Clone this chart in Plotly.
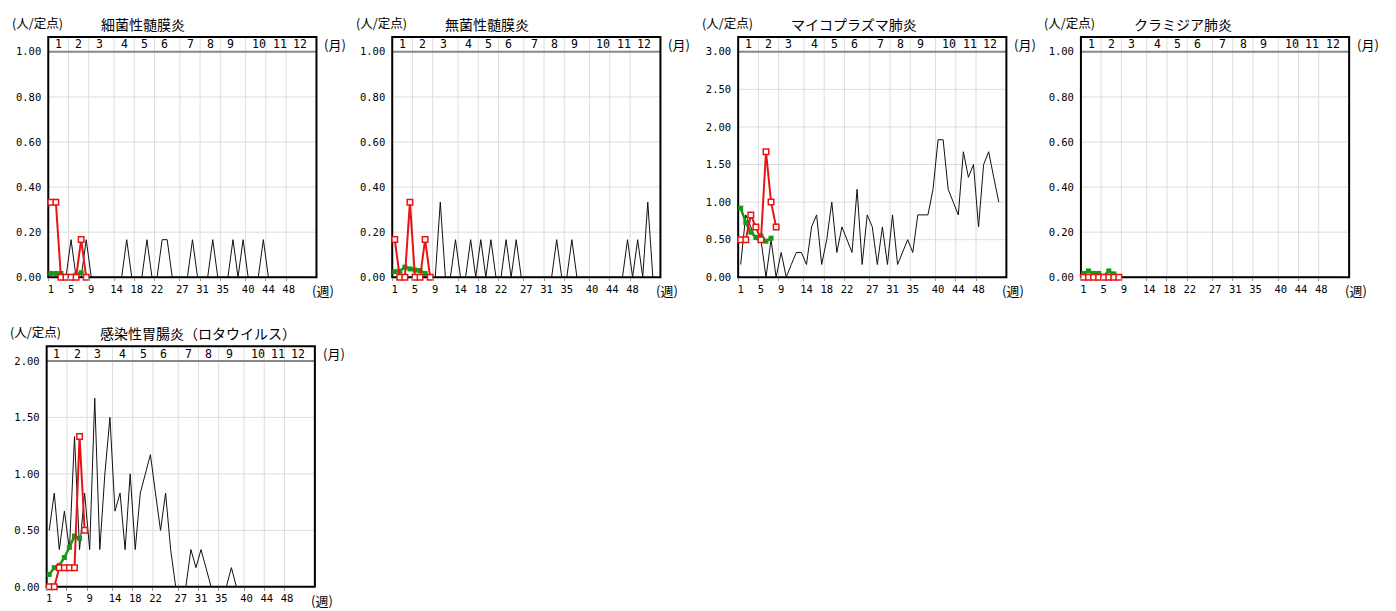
import plotly.graph_objects as go

W, H = 1396, 611

# ---------------- data ----------------
weeks = list(range(1, 53))
cur_weeks = list(range(1, 9))
avg_weeks = list(range(1, 8))

month_start_weeks = [1, 5, 9, 14, 18, 22, 27, 31, 35, 40, 44, 48]
month_labels = ["1", "2", "3", "4", "5", "6", "7", "8", "9", "10", "11", "12"]

titles = ["細菌性髄膜炎", "無菌性髄膜炎", "マイコプラズマ肺炎", "クラミジア肺炎",
          "感染性胃腸炎（ロタウイルス）"]
y_max = [1.0, 1.0, 3.0, 1.0, 2.0]
y_step = [0.2, 0.2, 0.5, 0.2, 0.5]

s = 1 / 6
# 細菌性髄膜炎
bact_prev = [0, 0, 0, 0, s, 0, 0, s, 0, 0, 0, 0, 0, 0, 0, s, 0, 0, 0, s,
             0, 0, s, s, 0, 0, 0, 0, s, 0, 0, 0, s, 0, 0, 0, s, 0, s, 0,
             0, 0, s, 0, 0, 0, 0, 0, 0, 0, 0, 0]
bact_cur = [0.333, 0.333, 0, 0, 0, 0, 0.167, 0]
bact_avg = [0.017, 0.017, 0.017, 0.004, 0.003, 0.01, 0.02]

# 無菌性髄膜炎
asep_prev = [0, 0, 0, 0, 0, 0, 0, 0, 0, 2 * s, 0, 0, s, 0, 0, s, 0, s, 0, s,
             0, 0, s, 0, s, 0, 0, 0, 0, 0, 0, 0, s, 0, 0, s, 0, 0, 0, 0,
             0, 0, 0, 0, 0, 0, s, 0, s, 0, 2 * s, 0]
asep_cur = [0.167, 0, 0, 0.333, 0, 0, 0.167, 0]
asep_avg = [0.025, 0.027, 0.045, 0.037, 0.032, 0.03, 0.017]

# マイコプラズマ肺炎
myco_prev = [0.17, 0.83, 0.67, 0.5, 0.5, 0, 0.5, 0, 0.33, 0,
             0.17, 0.33, 0.33, 0.17, 0.67, 0.83, 0.17, 0.5, 1.0, 0.33,
             0.67, 0.5, 0.33, 1.17, 0.17, 0.83, 0.67, 0.17, 0.67, 0.17,
             0.83, 0.17, 0.33, 0.5, 0.33, 0.83, 0.83, 0.83, 1.17, 1.83,
             1.83, 1.17, 1.0, 0.83, 1.67, 1.33, 1.5, 0.67, 1.5, 1.67,
             1.33, 1.0]
myco_cur = [0.5, 0.5, 0.83, 0.67, 0.5, 1.67, 1.0, 0.67]
myco_avg = [0.92, 0.73, 0.6, 0.53, 0.55, 0.48, 0.52]

# クラミジア肺炎
chla_prev = [0] * 52
chla_cur = [0, 0, 0, 0, 0, 0, 0, 0]
chla_avg = [0.017, 0.028, 0.017, 0.017, 0.004, 0.028, 0.015]

# 感染性胃腸炎（ロタウイルス）
rota_prev = [0.5, 0.83, 0.33, 0.67, 0.33, 1.33, 0.33, 0.83, 0.33, 1.67,
             0.33, 1.0, 1.5, 0.67, 0.83, 0.33, 1.0, 0.33, 0.83, 1.0,
             1.17, 0.83, 0.5, 0.83, 0.33, 0, 0, 0, 0.33, 0.17,
             0.33, 0.17, 0, 0, 0, 0, 0.17, 0, 0, 0,
             0, 0, 0, 0, 0, 0, 0, 0, 0, 0, 0, 0]
rota_cur = [0, 0, 0.17, 0.17, 0.17, 0.17, 1.33, 0.5]
rota_avg = [0.11, 0.17, 0.19, 0.26, 0.35, 0.45, 0.43]

prev_series = [bact_prev, asep_prev, myco_prev, chla_prev, rota_prev]
cur_series = [bact_cur, asep_cur, myco_cur, chla_cur, rota_cur]
avg_series = [bact_avg, asep_avg, myco_avg, chla_avg, rota_avg]

# ---------------- layout geometry (pixels) ----------------
# (left, right, top_of_plot, bottom_of_plot)
panels = [
    (47.3, 315.7, 46.7, 276.7),
    (391.5, 659.9, 46.7, 276.7),
    (737.7, 1006.1, 46.7, 276.7),
    (1080.7, 1349.1, 46.7, 276.7),
    (45.7, 314.1, 362.0, 592.5),
]
STRIP = 15.0
X0, X1 = 0.5, 53.5

RED = "#e81414"
GREEN = "#159a15"
GRID = "#dddddd"
MONO = "DejaVu Sans Mono"
JP = "Noto Sans CJK JP"

fig = go.Figure()
shapes = []
annotations = []

for i in range(5):
    xl, xr, yt, yb = panels[i]
    n = "" if i == 0 else str(i + 1)
    xa, ya = "x" + n, "y" + n
    strip_frac = 1 + STRIP / (yb - yt)

    fig.add_trace(go.Scatter(x=weeks, y=prev_series[i], mode="lines",
                             line=dict(color="#111111", width=1),
                             xaxis=xa, yaxis=ya, hoverinfo="skip",
                             showlegend=False))
    fig.add_trace(go.Scatter(x=avg_weeks, y=avg_series[i], mode="lines+markers",
                             line=dict(color=GREEN, width=2.5),
                             marker=dict(symbol="square", size=5, color=GREEN),
                             xaxis=xa, yaxis=ya, cliponaxis=False,
                             showlegend=False))
    fig.add_trace(go.Scatter(x=cur_weeks, y=cur_series[i], mode="lines+markers",
                             line=dict(color=RED, width=2),
                             marker=dict(symbol="square", size=5.5, color="white",
                                         line=dict(color=RED, width=1.5)),
                             xaxis=xa, yaxis=ya, cliponaxis=False,
                             showlegend=False))

    nt = int(round(y_max[i] / y_step[i]))
    ytick = [round(k * y_step[i], 2) for k in range(nt + 1)]
    fig.update_layout(**{
        ("xaxis" + n): dict(
            domain=[xl / W, xr / W], range=[X0, X1], anchor=ya,
            tickmode="array", tickvals=month_start_weeks,
            ticktext=[str(w) for w in month_start_weeks],
            ticks="", showgrid=False, zeroline=False, showline=False,
            tickfont=dict(family=MONO, size=10.5, color="#000"),
            ticklabelstandoff=4,
            minor=dict(tickmode="array",
                       tickvals=[w - 0.5 for w in month_start_weeks],
                       showgrid=False, ticks="outside", ticklen=3,
                       tickcolor="#999999"),
            fixedrange=True,
        ),
        ("yaxis" + n): dict(
            domain=[1 - yb / H, 1 - yt / H], range=[0, y_max[i]], anchor=xa,
            tickmode="array", tickvals=ytick, tickformat=".2f",
            ticks="", showgrid=False, zeroline=False, showline=False,
            tickfont=dict(family=MONO, size=10.5, color="#000"),
            ticklabelstandoff=6, fixedrange=True,
        ),
    })

    xd, yd = xa + " domain", ya + " domain"
    # horizontal grid
    for v in ytick[1:-1]:
        f = v / y_max[i]
        shapes.append(dict(type="line", xref=xd, yref=yd, x0=0, x1=1, y0=f, y1=f,
                           line=dict(color=GRID, width=1), layer="below"))
    # vertical grid + strip dividers
    for w in month_start_weeks[1:]:
        f = (w - 0.5 - X0) / (X1 - X0)
        shapes.append(dict(type="line", xref=xd, yref=yd, x0=f, x1=f,
                           y0=0, y1=strip_frac, line=dict(color=GRID, width=1),
                           layer="below"))
    # strip bottom line
    shapes.append(dict(type="line", xref=xd, yref=yd, x0=0, x1=1, y0=1, y1=1,
                       line=dict(color="#888888", width=2), layer="below"))
    # frame
    shapes.append(dict(type="rect", xref=xd, yref=yd, x0=0, x1=1, y0=0,
                       y1=strip_frac, line=dict(color="black", width=2),
                       fillcolor="rgba(0,0,0,0)", layer="below"))

    # month labels
    for w, lab in zip(month_start_weeks, month_labels):
        annotations.append(dict(xref=xa, yref=yd, x=w - 0.5 + 0.95,
                                y=(1 + strip_frac) / 2, text=lab,
                                showarrow=False, xanchor="left",
                                yanchor="middle",
                                font=dict(family=MONO, size=11.5, color="#000")))
    strip_top = yt - STRIP
    # title
    annotations.append(dict(xref="paper", yref="paper", x=(xl + 51) / W,
                            y=1 - (strip_top - 13) / H, text=titles[i],
                            showarrow=False, xanchor="left", yanchor="middle",
                            font=dict(family=JP, size=14, color="#000")))
    # unit
    annotations.append(dict(xref="paper", yref="paper", x=(xl - 11) / W,
                            y=1 - (strip_top - 15) / H, text="(人/定点)",
                            showarrow=False, xanchor="center", yanchor="middle",
                            font=dict(family=JP, size=12.5, color="#000")))
    # (月)
    annotations.append(dict(xref="paper", yref="paper", x=(xr + 19) / W,
                            y=1 - (yt - STRIP / 2) / H, text="(月)",
                            showarrow=False, xanchor="center", yanchor="middle",
                            font=dict(family=JP, size=13, color="#000")))
    # (週)
    annotations.append(dict(xref="paper", yref="paper", x=(xr + 7) / W,
                            y=1 - (yb + 13.5) / H, text="(週)",
                            showarrow=False, xanchor="center", yanchor="middle",
                            font=dict(family=JP, size=13, color="#000")))

fig.update_layout(width=W, height=H, margin=dict(l=0, r=0, t=0, b=0),
                  paper_bgcolor="white", plot_bgcolor="rgba(0,0,0,0)",
                  shapes=shapes, annotations=annotations, showlegend=False,
                  font=dict(family=JP))

fig.write_html("out.html", post_script="document.body.style.margin='0';",
               config={"displayModeBar": False})
